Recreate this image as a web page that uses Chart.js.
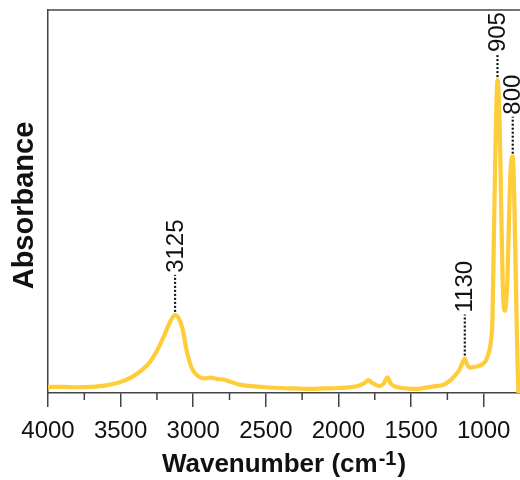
<!DOCTYPE html>
<html>
<head>
<meta charset="utf-8">
<script src="https://cdn.jsdelivr.net/npm/chart.js@4"></script>
<style>
  html, body { margin: 0; padding: 0; background: #fff; }
  #wrap { width: 520px; height: 480px; }
</style>
</head>
<body>
<div id="wrap"><canvas id="chart1"></canvas></div>
<script>
// FTIR spectrum, wavenumber (cm-1) vs absorbance
const wavenumbers = [
    4000, 3900, 3800, 3700, 3600, 3500, 3400, 3300, 3250, 3200, 3160, 3125, 3100, 3075, 3045, 3010,
    2970, 2920, 2880, 2840, 2780, 2740, 2680, 2600, 2500, 2400, 2300, 2200, 2100, 2000, 1920, 1860,
    1820, 1795, 1770, 1720, 1690, 1663, 1640, 1610, 1560, 1500, 1450, 1400, 1330, 1280, 1240, 1200,
    1165, 1145, 1130, 1115, 1095, 1070, 1040, 1010, 985, 965, 950, 940, 930, 920, 912, 905, 898, 890,
    880, 870, 860, 853, 845, 836, 828, 820, 812, 800, 792, 785, 775, 765, 750
];
const absorbance = [
    0.016, 0.016, 0.015, 0.016, 0.020, 0.029, 0.047, 0.080, 0.110, 0.150, 0.185, 0.204, 0.195, 0.170, 0.110, 0.065,
    0.045, 0.038, 0.040, 0.037, 0.034, 0.029, 0.022, 0.018, 0.015, 0.013, 0.012, 0.011, 0.012, 0.013, 0.015, 0.019,
    0.026, 0.034, 0.027, 0.018, 0.024, 0.041, 0.025, 0.017, 0.013, 0.011, 0.011, 0.014, 0.018, 0.021, 0.030, 0.045,
    0.062, 0.080, 0.090, 0.075, 0.066, 0.068, 0.070, 0.075, 0.085, 0.105, 0.135, 0.190, 0.400, 0.620, 0.760, 0.817, 0.790, 0.700,
    0.500, 0.300, 0.220, 0.215, 0.240, 0.300, 0.420, 0.530, 0.600, 0.617, 0.550, 0.420, 0.220, 0.050, -0.100
];
const peaks = [3125, 1130, 905, 800];
const peakStemLengths = [37, 41, 23, 37];
const xTicks = [4000, 3500, 3000, 2500, 2000, 1500, 1000];
const xMinorTicks = [3750, 3250, 2750, 2250, 1750, 1250];

const FONT = '"Liberation Sans", Arial, Helvetica, sans-serif';
const AXIS_COLOR = '#444';

// frame, minor ticks, axis titles and peak markers
const decorations = {
    id: 'decorations',
    afterDraw(chart) {
        const c = chart.ctx;
        const area = chart.chartArea;
        const xs = chart.scales.x;
        const ys = chart.scales.y;
        c.save();

        c.strokeStyle = AXIS_COLOR;
        c.lineWidth = 1.5;
        c.beginPath();
        c.moveTo(area.left, area.top);
        c.lineTo(area.right, area.top);
        c.stroke();

        c.beginPath();
        xMinorTicks.forEach(v => {
            const px = xs.getPixelForValue(v);
            c.moveTo(px, area.bottom);
            c.lineTo(px, area.bottom + 7);
        });
        c.stroke();

        // peak markers
        peaks.forEach((wn, i) => {
            const idx = wavenumbers.indexOf(wn);
            const px = xs.getPixelForValue(wn);
            const py = ys.getPixelForValue(absorbance[idx]);
            const top = py - 3 - peakStemLengths[i];
            c.strokeStyle = '#111';
            c.lineWidth = 2.2;
            c.setLineDash([2, 2]);
            c.beginPath();
            c.moveTo(px, py - 3);
            c.lineTo(px, top);
            c.stroke();
            c.setLineDash([]);
            c.save();
            c.translate(px, top - 2);
            c.rotate(-Math.PI / 2);
            c.fillStyle = '#111';
            c.font = '24px ' + FONT;
            c.textAlign = 'left';
            c.textBaseline = 'middle';
            c.fillText(String(wn), 0, 1);
            c.restore();
        });

        // y title
        c.save();
        c.translate(23, (area.top + area.bottom) / 2 + 4);
        c.rotate(-Math.PI / 2);
        c.fillStyle = '#111';
        c.font = 'bold 29px ' + FONT;
        c.textAlign = 'center';
        c.textBaseline = 'alphabetic';
        c.fillText('Absorbance', 0, 10);
        c.restore();

        // x title with superscript
        const base = 'Wavenumber (cm';
        const sup = '-1';
        const tail = ')';
        c.fillStyle = '#111';
        c.textBaseline = 'alphabetic';
        c.textAlign = 'left';
        c.font = 'bold 26px ' + FONT;
        const wBase = c.measureText(base).width;
        const wTail = c.measureText(tail).width;
        c.font = 'bold 20px ' + FONT;
        const wSup = c.measureText(sup).width;
        const total = wBase + wSup + wTail + 2;
        let x0 = (area.left + area.right) / 2 - total / 2;
        const baseline = 472;
        c.font = 'bold 26px ' + FONT;
        c.fillText(base, x0, baseline);
        c.font = 'bold 20px ' + FONT;
        c.fillText(sup, x0 + wBase + 1, baseline - 7);
        c.font = 'bold 26px ' + FONT;
        c.fillText(tail, x0 + wBase + wSup + 2, baseline);

        c.restore();
    }
};

const ctx1 = document.getElementById('chart1').getContext('2d');
new Chart(ctx1, {
    type: 'line',
    data: {
        datasets: [{
            data: wavenumbers.map((wn, i) => ({ x: wn, y: absorbance[i] })),
            borderColor: '#ffcc3a',
            borderWidth: 4.2,
            pointRadius: 0,
            tension: 0.4,
            cubicInterpolationMode: 'monotone',
            fill: false
        }]
    },
    options: {
        responsive: true,
        maintainAspectRatio: false,
        animation: false,
        events: [],
        layout: { padding: { top: 10, right: 0, left: 0, bottom: 0 } },
        plugins: {
            legend: { display: false },
            tooltip: { enabled: false }
        },
        scales: {
            x: {
                type: 'linear',
                reverse: true,
                min: 750,
                max: 4000,
                afterBuildTicks: scale => {
                    scale.ticks = xTicks.map(v => ({ value: v }));
                },
                afterFit: scale => {
                    scale.height = 87;
                    scale.paddingLeft = 0;
                    scale.paddingRight = 0;
                },
                border: { display: true, color: AXIS_COLOR, width: 1.5 },
                grid: {
                    display: true,
                    drawOnChartArea: false,
                    drawTicks: true,
                    tickLength: 14,
                    color: AXIS_COLOR,
                    lineWidth: 1.5
                },
                ticks: {
                    autoSkip: false,
                    maxRotation: 0,
                    padding: 10,
                    color: '#111',
                    font: { family: FONT, size: 24 },
                    callback: v => String(v)
                }
            },
            y: {
                min: 0,
                max: 1,
                afterFit: scale => { scale.width = 48; },
                border: { display: true, color: AXIS_COLOR, width: 1.5 },
                grid: { display: false },
                ticks: { display: false }
            }
        }
    },
    plugins: [decorations]
});
</script>
</body>
</html>
